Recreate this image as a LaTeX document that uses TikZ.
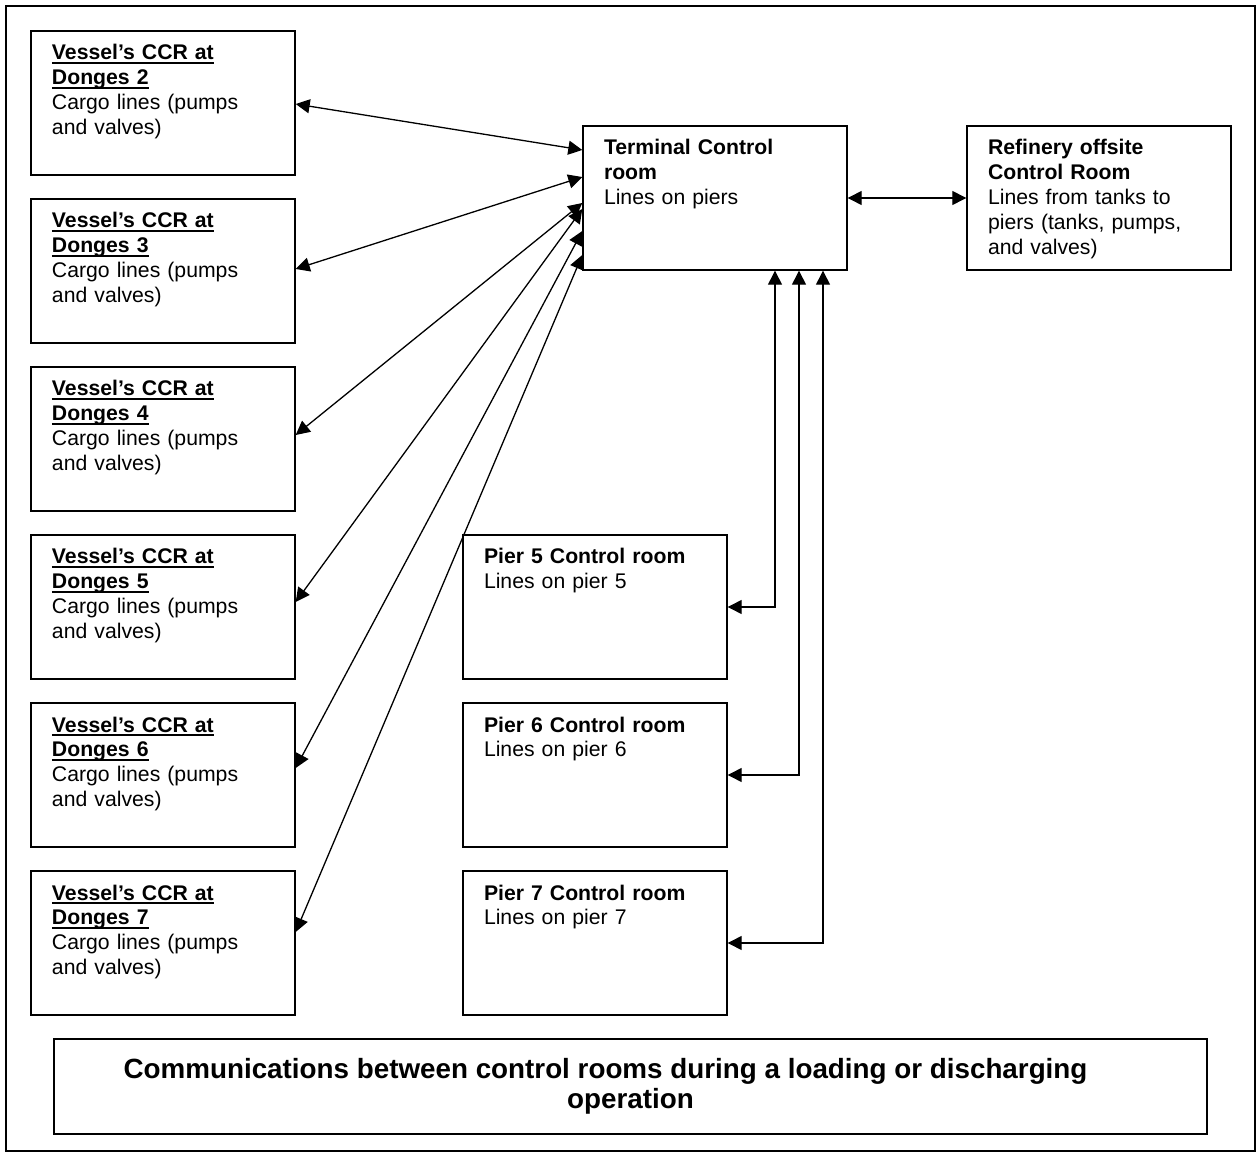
\documentclass[tikz,border=0pt]{standalone}
\usepackage{fontspec}
\setmainfont{Liberation Sans}
\usetikzlibrary{arrows.meta,calc}
\newcommand{\ulbf}[1]{\leavevmode\setbox0\hbox{\textbf{#1}}\rlap{\rule[-2pt]{\wd0}{0.8pt}}\box0}

\begin{document}
\begin{tikzpicture}[
    x=0.5pt, y=-0.5pt,
    box/.style={rectangle, draw, line width=0.7pt, text width=111pt, align=left, inner xsep=10.5pt, inner ysep=4pt, text height=10.5pt, text depth=53.5pt, font=\fontsize{10.6}{12.4}\selectfont},
    titlebox/.style={rectangle, draw, line width=0.7pt, minimum width=576.5pt, minimum height=47.5pt, align=center, font=\bfseries\fontsize{13.9}{15}\selectfont},
    arrow/.style={{Triangle[length=7pt,width=7pt]}-{Triangle[length=7pt,width=7pt]}, line width=0.65pt}
]
\useasboundingbox (0,0) rectangle (1260,1155);
\draw[line width=1pt] (6,6) rectangle (1255,1151);
% Vessels
\node[box] (v2) at (163,103) {\ulbf{Vessel’s CCR at}\\\ulbf{Donges 2}\\Cargo lines (pumps\\and valves)};
\node[box] (v3) at (163,271) {\ulbf{Vessel’s CCR at}\\\ulbf{Donges 3}\\Cargo lines (pumps\\and valves)};
\node[box] (v4) at (163,439) {\ulbf{Vessel’s CCR at}\\\ulbf{Donges 4}\\Cargo lines (pumps\\and valves)};
\node[box] (v5) at (163,607) {\ulbf{Vessel’s CCR at}\\\ulbf{Donges 5}\\Cargo lines (pumps\\and valves)};
\node[box] (v6) at (163,775) {\ulbf{Vessel’s CCR at}\\\ulbf{Donges 6}\\Cargo lines (pumps\\and valves)};
\node[box] (v7) at (163,943) {\ulbf{Vessel’s CCR at}\\\ulbf{Donges 7}\\Cargo lines (pumps\\and valves)};
% Terminal and refinery
\node[box] (tcr) at (715,198) {\textbf{Terminal Control}\\\textbf{room}\\Lines on piers};
\node[box] (rcr) at (1099,198) {\textbf{Refinery offsite}\\\textbf{Control Room}\\Lines from tanks to\\piers (tanks, pumps,\\and valves)};
% Piers
\node[box] (p5) at (595,607) {\textbf{Pier 5 Control room}\\Lines on pier 5};
\node[box] (p6) at (595,775) {\textbf{Pier 6 Control room}\\Lines on pier 6};
\node[box] (p7) at (595,943) {\textbf{Pier 7 Control room}\\Lines on pier 7};
% Title
\node[titlebox] (title) at (630.5,1086.5) {Communications between control rooms during a loading or discharging\hspace*{25pt}\\operation};
% Links
\draw[arrow] ($(v2.east)+(0,1)$) -- ($(tcr.west)+(0,-48)$);
\draw[arrow] ($(v3.east)+(0,-2)$) -- ($(tcr.west)+(0,-21)$);
\draw[arrow] ($(v4.east)+(0,-4)$) -- ($(tcr.west)+(0,5)$);
\draw[arrow] ($(v5.east)+(0,-5)$) -- ($(tcr.west)+(0,11)$);
\draw[arrow] ($(v6.east)+(0,-7)$) -- ($(tcr.west)+(0,33)$);
\draw[arrow] ($(v7.east)+(0,-11)$) -- ($(tcr.west)+(0,57)$);
\draw[arrow] (tcr) -- (rcr);
\draw[arrow] (p5.east) -| ($(tcr.south)+(60,0)$);
\draw[arrow] (p6.east) -| ($(tcr.south)+(84,0)$);
\draw[arrow] (p7.east) -| ($(tcr.south)+(108,0)$);
\end{tikzpicture}
\end{document}
